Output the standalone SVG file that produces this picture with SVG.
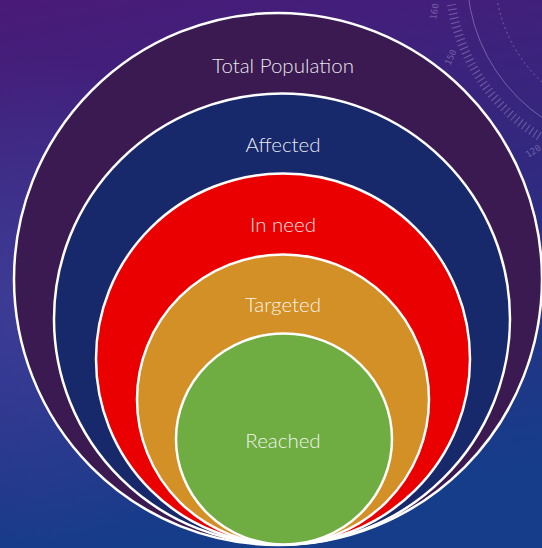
<svg xmlns="http://www.w3.org/2000/svg" width="542" height="548" viewBox="0 0 542 548">
  <defs>
    <linearGradient id="bg" x1="0" y1="0" x2="0.2" y2="1">
      <stop offset="0" stop-color="#4a1a78"/>
      <stop offset="0.45" stop-color="#33287f"/>
      <stop offset="1" stop-color="#163d8a"/>
    </linearGradient>
    <radialGradient id="glow" cx="0.05" cy="0.55" r="0.45">
      <stop offset="0" stop-color="#4a4aa8" stop-opacity="0.55"/>
      <stop offset="1" stop-color="#4a4aa8" stop-opacity="0"/>
    </radialGradient>
    <style>
      .ring { stroke: #ffffff; stroke-width: 2.5; }
      .label { font-family: Lato, "Open Sans", "Liberation Sans", sans-serif; font-weight: 300; font-size: 20.5px; fill: #ffffff; fill-opacity: 0.92; text-anchor: middle; }
      .deco { fill: none; stroke: #c4bfe8; stroke-opacity: 0.4; stroke-width: 1; }
      .tick { fill: none; stroke: #c4bfe8; stroke-opacity: 0.38; stroke-width: 9; stroke-dasharray: 1 3.5; }
      .num { font-family: "DejaVu Sans Mono", monospace; font-size: 9px; fill: #c4bfe8; fill-opacity: 0.4; }
    </style>
  </defs>

  <!-- backdrop -->
  <rect width="542" height="548" fill="url(#bg)"/>
  <rect width="542" height="548" fill="url(#glow)"/>

  <!-- protractor ornament, top right -->
  <g id="protractor">
    <circle class="deco" cx="640" cy="-25" r="173"/>
    <circle class="deco" cx="640" cy="-25" r="145" stroke-dasharray="2 3"/>
    <path class="tick" d="M 451.5 4.6 A 190 190 0 0 0 540 136.6"/>
    <text class="num" transform="translate(436,20) rotate(-80)">160</text>
    <text class="num" transform="translate(450,66) rotate(-65)">150</text>
    <text class="num" transform="translate(528,158) rotate(-32)">120</text>
  </g>

  <!-- nested sets, all touching at the bottom -->
  <g id="total-population">
    <ellipse class="ring" cx="278" cy="279" rx="264" ry="266" fill="#3a1a50"/>
    <text class="label" x="283" y="73">Total Population</text>
  </g>
  <g id="affected">
    <ellipse class="ring" cx="282" cy="319" rx="228" ry="225.5" fill="#17296b"/>
    <text class="label" x="283" y="152">Affected</text>
  </g>
  <g id="in-need">
    <ellipse class="ring" cx="283" cy="359" rx="187" ry="185.5" fill="#ea0000"/>
    <text class="label" x="283" y="231.5">In need</text>
  </g>
  <g id="targeted">
    <ellipse class="ring" cx="283" cy="399.5" rx="146" ry="145" fill="#d39027"/>
    <text class="label" x="283" y="311.5">Targeted</text>
  </g>
  <g id="reached">
    <ellipse class="ring" cx="284" cy="439" rx="108" ry="105.5" fill="#6fac42"/>
    <text class="label" x="283" y="448">Reached</text>
  </g>
</svg>
